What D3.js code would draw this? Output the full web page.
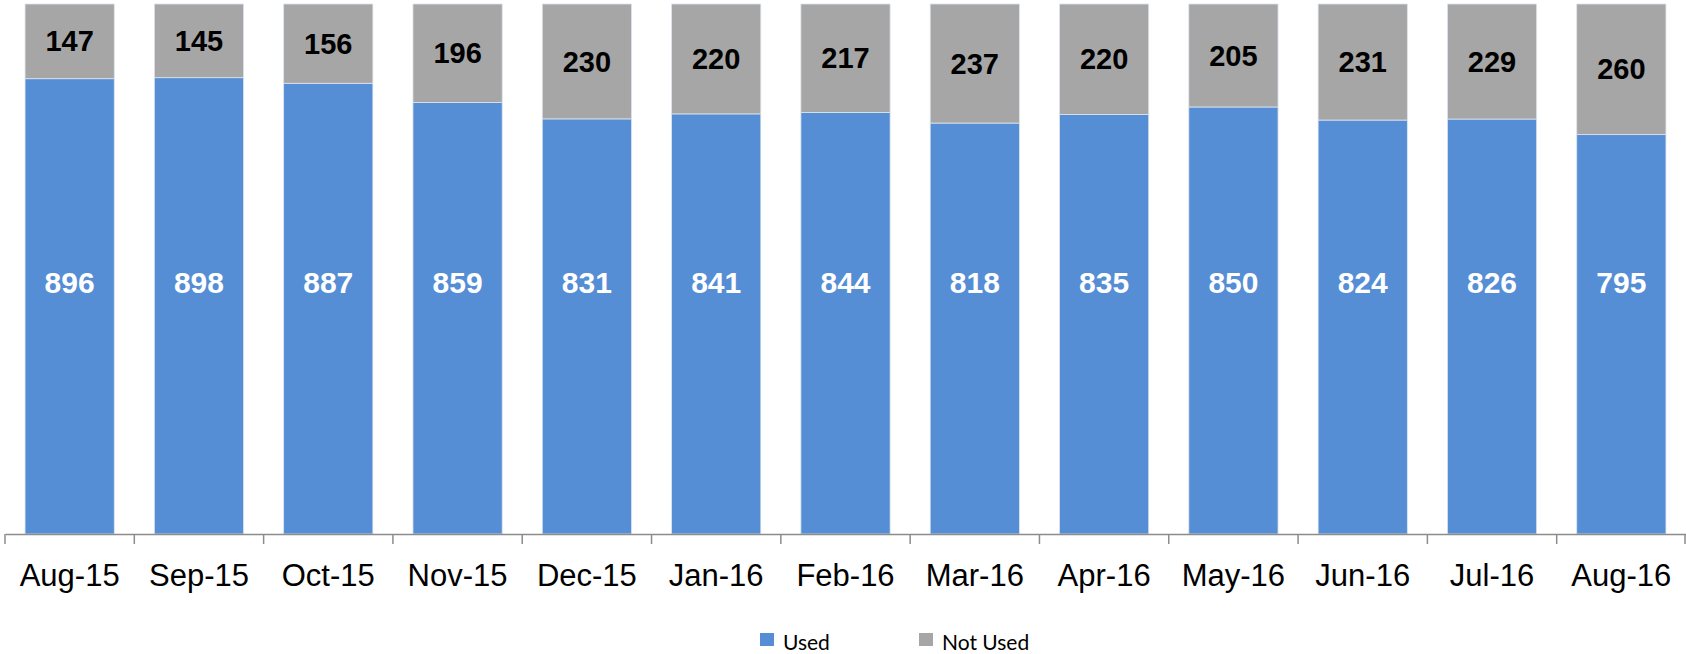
<!DOCTYPE html>
<html>
<head>
<meta charset="utf-8">
<script src="https://cdn.jsdelivr.net/npm/d3@7"></script>
<style>
  body { margin: 0; background: #fff; }
  svg { display: block; }
</style>
</head>
<body>
<svg class="chart"></svg>
<script>
var months = ['Aug-15','Sep-15','Oct-15','Nov-15','Dec-15','Jan-16','Feb-16',
              'Mar-16','Apr-16','May-16','Jun-16','Jul-16','Aug-16'];
var used    = [896, 898, 887, 859, 831, 841, 844, 818, 835, 850, 824, 826, 795];
var notUsed = [147, 145, 156, 196, 230, 220, 217, 237, 220, 205, 231, 229, 260];
var seriesNames = ['Used', 'Not Used'];

var svgwidth = 1686;
var svgheight = 654;

var margins = {top: 4, bottom: 120, left: 5, right: 0};

var colors = {used: '#558ed5', notUsed: '#a6a6a6'};

var rows = months.map(function(m, i){
  return {month: m, used: used[i], notUsed: notUsed[i]};
});

// 100% stacked, like the excel chart
var stack = d3.stack().keys(['used', 'notUsed']).offset(d3.stackOffsetExpand);
var layers = stack(rows);

var svg = d3.select('.chart')
            .attr('width', svgwidth)
            .attr('height', svgheight);

var slotScale = d3.scaleBand()
                  .domain(months)
                  .range([margins.left, svgwidth - margins.right])
                  .padding(0);

var xScale = d3.scaleBand()
               .domain(months)
               .range([margins.left, svgwidth - margins.right])
               .paddingInner(0.31)
               .paddingOuter(0.155);

var yScale = d3.scaleLinear()
               .domain([0, 1])
               .range([svgheight - margins.bottom, margins.top]);

svg.append('g').selectAll('g')
   .data(layers).enter()
   .append('g')
   .attr('fill', function(d){ return colors[d.key]; })
   .selectAll('rect')
   .data(function(d){ return d; }).enter()
   .append('rect')
   .attr('x', function(d){ return xScale(d.data.month); })
   .attr('y', function(d){ return yScale(d[1]); })
   .attr('width', xScale.bandwidth())
   .attr('height', function(d){ return yScale(d[0]) - yScale(d[1]); })
   .attr('stroke', '#dde4ee')
   .attr('stroke-width', 0.8);

// grey labels centred in their segment
svg.append('g').selectAll('text')
   .data(layers[1]).enter()
   .append('text')
   .attr('x', function(d){ return xScale(d.data.month) + xScale.bandwidth()/2; })
   .attr('y', function(d){ return (yScale(d[0]) + yScale(d[1]))/2; })
   .attr('dy', '0.35em')
   .attr('text-anchor', 'middle')
   .style('font-family', 'Liberation Sans, Arial, sans-serif')
   .style('font-weight', 'bold')
   .style('font-size', '29px')
   .attr('fill', '#000')
   .text(function(d){ return d.data.notUsed; });

// white labels sit a bit above the middle of the plot
var usedLabelLevel = 0.475;
svg.append('g').selectAll('text')
   .data(layers[0]).enter()
   .append('text')
   .attr('x', function(d){ return xScale(d.data.month) + xScale.bandwidth()/2; })
   .attr('y', yScale(usedLabelLevel))
   .attr('dy', '0.35em')
   .attr('text-anchor', 'middle')
   .style('font-family', 'Liberation Sans, Arial, sans-serif')
   .style('font-weight', 'bold')
   .style('font-size', '30px')
   .attr('fill', '#fff')
   .text(function(d){ return d.data.used; });

// x axis
var xAxis = d3.axisBottom(slotScale).tickSize(0).tickSizeOuter(0).tickPadding(30);

var axisG = svg.append('g').classed('xAxis', true)
   .attr('transform', 'translate(0,' + yScale(0) + ')')
   .call(xAxis);

axisG.select('.domain').attr('stroke', '#8c8c8c').attr('stroke-width', 1.5);
axisG.selectAll('text')
     .style('font-family', 'Liberation Sans, Arial, sans-serif')
     .style('font-size', '31px')
     .attr('fill', '#000');

// tick marks between categories
var edges = months.map(function(m){ return slotScale(m); });
edges.push(slotScale.range()[1] - 1);
axisG.selectAll('.edge')
     .data(edges).enter()
     .append('line')
     .classed('edge', true)
     .attr('x1', function(d){ return d; })
     .attr('x2', function(d){ return d; })
     .attr('y1', 0)
     .attr('y2', 10)
     .attr('stroke', '#8c8c8c')
     .attr('stroke-width', 1.5);

// legend
var legendX = [760, 919];
var legendKeys = ['used', 'notUsed'];
var legend = svg.append('g').selectAll('g')
   .data(seriesNames).enter()
   .append('g')
   .attr('transform', function(d, i){ return 'translate(' + legendX[i] + ',' + 633 + ')'; });

legend.append('rect')
      .attr('width', 14)
      .attr('height', 13)
      .attr('fill', function(d, i){ return colors[legendKeys[i]]; });

legend.append('text')
      .attr('x', 23)
      .attr('y', 17)
      .style('font-family', 'Lato, Open Sans, sans-serif')
      .style('font-size', '21px')
      .attr('fill', '#000')
      .text(function(d){ return d; });
</script>
</body>
</html>
